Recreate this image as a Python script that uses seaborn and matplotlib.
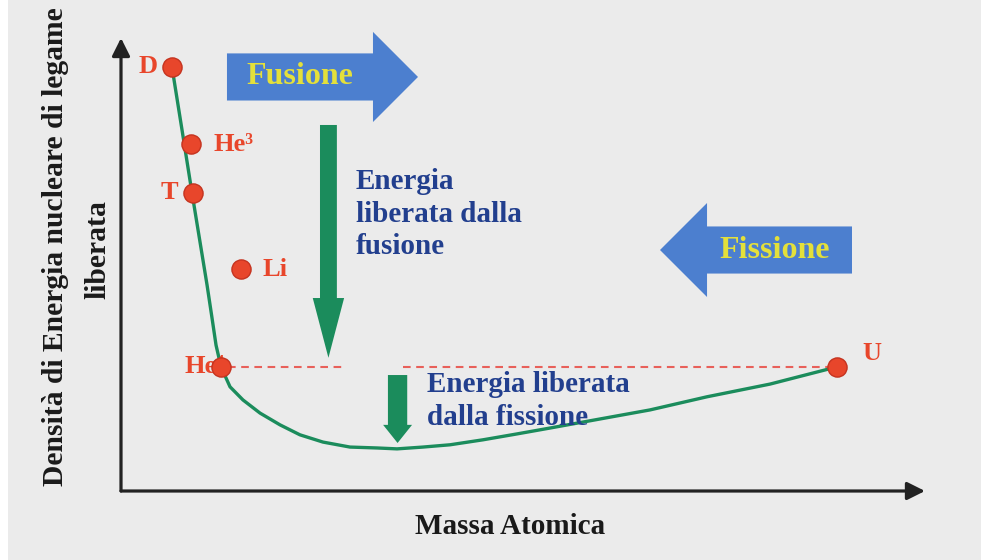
import matplotlib
matplotlib.use("Agg")
import matplotlib.pyplot as plt
from matplotlib.patches import FancyArrow, Rectangle
import seaborn as sns
import pandas as pd

# Binding-energy curve (arbitrary units: mass on x, released energy density on y)
curve_mass = [6.34, 7.59, 8.83, 10.70, 11.32, 11.82, 12.44, 13.56, 15.17,
              17.29, 19.78, 22.26, 25.12, 28.48, 31.84, 34.33, 37.56, 40.92,
              45.02, 49.25, 53.36, 59.58, 65.80, 72.89, 80.72, 89.05]
curve_energy = [93.6, 79.7, 65.8, 45.5, 38.2, 32.2, 27.4, 23.0, 20.1,
                17.2, 14.6, 12.4, 10.8, 9.7, 9.5, 9.3, 9.7, 10.2,
                11.3, 12.6, 13.9, 15.9, 17.9, 20.8, 23.6, 27.4]

# Nuclides marked on the chart
nuclide_names = ["D", "He³", "T", "Li", "He⁴", "U"]
nuclide_mass = [6.34, 8.71, 8.96, 14.9, 12.44, 89.05]
nuclide_energy = [93.6, 76.6, 65.8, 49.0, 27.4, 27.4]

# Reference level between He⁴ and U (two dashed stretches)
level_segments = [(13.3, 27.6), (35.1, 88.2)]

W, H, DPI = 981, 560, 100

sns.set_theme(style="white", rc={"lines.scale_dashes": False})
plt.rcParams["font.family"] = ["Liberation Serif", "DejaVu Serif"]
plt.rcParams["font.weight"] = "bold"

BG = "#ebebeb"
RED = "#e8462b"
GREEN = "#1b8c5c"
BLUE_ARROW = "#4c7fcf"
YELLOW = "#e4e03a"
NAVY = "#223f8e"

fig = plt.figure(figsize=(W / DPI, H / DPI), dpi=DPI, facecolor=BG)
fig.patches.append(Rectangle((0, 0), 8 / W, 1, transform=fig.transFigure,
                             facecolor="white", edgecolor="none", zorder=0))

# axes placed in pixel units: origin at (121, 491), arrow tips at x=925 / y=38
x0, x1, y0, y1 = 121, 925, 491, 38
ax = fig.add_axes([x0 / W, 1 - y0 / H, (x1 - x0) / W, (y0 - y1) / H])
ax.set_facecolor(BG)
ax.set_xlim(0, 100)
ax.set_ylim(0, 100)
for s in ax.spines.values():
    s.set_visible(False)
ax.set_xticks([])
ax.set_yticks([])

# axis arrows
arrow_kw = dict(arrowstyle="-|>,head_length=0.9,head_width=0.45", color="#222222",
                lw=2.3, shrinkA=0, shrinkB=0)
ax.annotate("", xy=(1, 0), xytext=(0, 0), xycoords="axes fraction",
            arrowprops=arrow_kw, annotation_clip=False)
ax.annotate("", xy=(0, 1), xytext=(0, 0), xycoords="axes fraction",
            arrowprops=arrow_kw, annotation_clip=False)

# dashed reference level
for a, b in level_segments:
    ax.plot([a, b], [nuclide_energy[4], nuclide_energy[5]], color="#e8605a",
            lw=1.5, dashes=(5.5, 4), zorder=2)

# curve
curve = pd.DataFrame({"mass": curve_mass, "energy": curve_energy})
sns.lineplot(data=curve, x="mass", y="energy", sort=False, estimator=None,
             color=GREEN, lw=2.4, ax=ax, zorder=3,
             solid_joinstyle="round", solid_capstyle="round")

# nuclide markers
nuc = pd.DataFrame({"name": nuclide_names, "mass": nuclide_mass,
                    "energy": nuclide_energy})
sns.scatterplot(data=nuc, x="mass", y="energy", s=190, color=RED,
                edgecolor="#c5331f", linewidth=1.0, ax=ax, zorder=5)
ax.set_xlabel("")
ax.set_ylabel("")

label_offsets = {"D": (-14, 0, "right"), "He³": (22, 0, "left"),
                 "T": (-15, 0, "right"), "Li": (22, 0, "left"),
                 "He⁴": (4, 0, "right"), "U": (25, 13, "left")}
for name, mx, my in zip(nuclide_names, nuclide_mass, nuclide_energy):
    dx, dy, ha = label_offsets[name]
    ax.annotate(name, (mx, my), xytext=(dx, dy), textcoords="offset pixels",
                ha=ha, va="center", color=RED, fontsize=19, fontweight="bold",
                zorder=4, annotation_clip=False)

# green arrows: energy released
ax.add_patch(FancyArrow(25.8, 80.8, 0, -51.4, width=2.1, head_width=3.9,
                        head_length=13.2, length_includes_head=True,
                        color=GREEN, lw=0, zorder=3))
ax.add_patch(FancyArrow(34.4, 25.6, 0, -15.0, width=2.4, head_width=3.6,
                        head_length=4.0, length_includes_head=True,
                        color=GREEN, lw=0, zorder=3))

# blue direction arrows
ax.add_patch(FancyArrow(13.18, 91.4, 23.76, 0, width=10.4, head_width=19.9,
                        head_length=5.6, length_includes_head=True,
                        color=BLUE_ARROW, lw=0, zorder=3, clip_on=False))
ax.add_patch(FancyArrow(90.92, 53.2, -23.88, 0, width=10.4, head_width=20.75,
                        head_length=5.85, length_includes_head=True,
                        color=BLUE_ARROW, lw=0, zorder=3, clip_on=False))


def px(x, y):
    return x / W, 1 - y / H


fig.text(*px(300, 77), "Fusione", ha="center", va="center", color=YELLOW,
         fontsize=23, fontweight="bold")
fig.text(*px(775, 250), "Fissione", ha="center", va="center", color=YELLOW,
         fontsize=23, fontweight="bold")

fig.text(*px(356, 214), "Energia\nliberata dalla\nfusione", ha="left",
         va="center", color=NAVY, fontsize=21, fontweight="bold",
         linespacing=1.25)
fig.text(*px(427, 401), "Energia liberata\ndalla fissione", ha="left",
         va="center", color=NAVY, fontsize=21, fontweight="bold",
         linespacing=1.25)

fig.text(*px(510, 527), "Massa Atomica", ha="center", va="center",
         color="#1a1a1a", fontsize=21, fontweight="bold")
fig.text(*px(56, 247), "Densità di Energia nucleare di legame", ha="center",
         va="center", rotation=90, color="#1a1a1a", fontsize=21.3,
         fontweight="bold")
fig.text(*px(98, 250), "liberata", ha="center", va="center", rotation=90,
         color="#1a1a1a", fontsize=21.3, fontweight="bold")

fig.savefig("out.png", dpi=DPI, facecolor=BG)
